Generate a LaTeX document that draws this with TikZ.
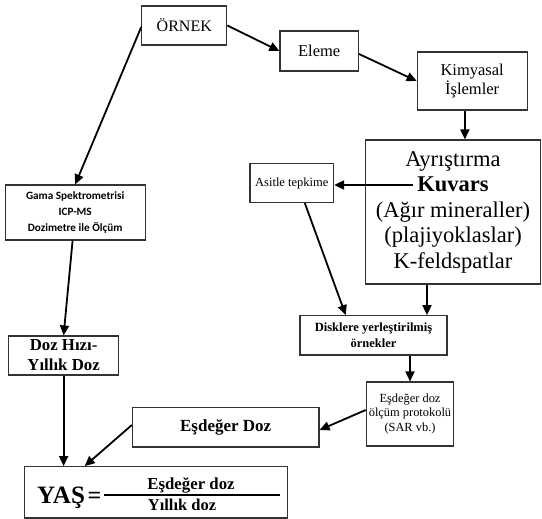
\documentclass[tikz,border=0pt]{standalone}
\usepackage{fontspec}
\setmainfont{Liberation Serif}
\newfontfamily\calfont{Carlito}
\usetikzlibrary{arrows.meta,calc}
\begin{document}
\begin{tikzpicture}[x=1pt,y=-1pt,
  box/.style={draw=black!80, line width=1.1pt, inner sep=0pt, align=center, rectangle},
  arr/.style={line width=1.8pt, -{Triangle[length=10pt,width=9pt]}},
]
\useasboundingbox (0,0) rectangle (542,519);
% boxes
\node[box, minimum width=85pt, minimum height=39pt, font=\fontsize{16}{18}\selectfont] (ornek) at (184.3,25.5) {ÖRNEK};
\node[box, minimum width=78.5pt, minimum height=40pt, font=\fontsize{16.5}{18}\selectfont] (eleme) at (319.2,51) {Eleme};
\node[box, minimum width=110pt, minimum height=58pt, font=\fontsize{16.5}{19.5}\selectfont] (kimya) at (472.2,81) {Kimyasal\\İşlemler};
\node[box, minimum width=175pt, minimum height=144pt, font=\fontsize{22.5}{25.5}\selectfont] (ayr) at (453,212) {Ayrıştırma\\\textbf{Kuvars}\\(Ağır mineraller)\\(plajiyoklaslar)\\K-feldspatlar};
\node[box, minimum width=83.6pt, minimum height=39pt, font=\fontsize{12.5}{14}\selectfont] (asit) at (291.8,183) {Asitle tepkime};
\node[box, minimum width=140pt, minimum height=55pt, font=\calfont\bfseries\fontsize{11.2}{16}\selectfont] (gama) at (75.2,212.5) {Gama Spektrometrisi\\ICP-MS\\Dozimetre ile Ölçüm};
\node[box, minimum width=110pt, minimum height=39pt, font=\bfseries\fontsize{16.8}{20}\selectfont] (dozh) at (63.6,355.5) {Doz Hızı-\\Yıllık Doz};
\node[box, minimum width=147pt, minimum height=39.3pt, font=\bfseries\fontsize{12.5}{15.5}\selectfont] (disk) at (373.5,335.3) {Disklere yerleştirilmiş\\örnekler};
\node[box, minimum width=87.5pt, minimum height=64pt, font=\fontsize{12.4}{14.5}\selectfont] (prot) at (410,414) {Eşdeğer doz\\ölçüm protokolü\\(SAR vb.)};
\node[box, minimum width=186.6pt, minimum height=39.3pt, font=\bfseries\fontsize{17}{20}\selectfont] (esd) at (225.7,427.3) {Eşdeğer Doz};
\node[box, minimum width=263.4pt, minimum height=51.3pt] (yas) at (156,492.3) {};
% equation
\node[anchor=base west, inner sep=0pt, font=\bfseries\fontsize{25}{30}\selectfont] (yaslbl) at (37,503.3) {YAŞ};
\node[anchor=base west, inner sep=0pt, font=\bfseries\fontsize{24}{30}\selectfont] (eq) at (87.5,503.3) {=};
\coordinate (fl) at (104,495);
\coordinate (fr) at (280,495);
\draw[line width=1.4pt] (fl) -- (fr);
\node[anchor=base, inner sep=0pt, font=\bfseries\fontsize{16.8}{20}\selectfont] (num) at (191,489.5) {Eşdeğer doz};
\node[anchor=base, inner sep=0pt, font=\bfseries\fontsize{16.5}{20}\selectfont] (den) at (182,510.5) {Yıllık doz};
% connectors
\draw[arr] (ornek.east) -- (eleme.west);
\draw[arr] ($(eleme.east)+(0,3)$) -- (kimya.west);
\coordinate (k1) at ($(kimya.south)+(-7.3,0)$);
\draw[arr] (k1) -- (k1 |- ayr.north);
\draw[arr] ($(ornek.west)+(0,1.5)$) -- (gama.north);
\coordinate (kuv) at (413,185);
\draw[arr] (kuv) -- (kuv -| asit.east);
\draw[arr] ($(asit.south)+(13,0)$) -- ($(disk.north)+(-27.8,0)$);
\coordinate (a1) at ($(ayr.south)+(-26,0)$);
\draw[arr] (a1) -- (a1 |- disk.north);
\draw[arr] ($(gama.south)+(-2.6,0)$) -- (dozh.north);
\draw[arr] (disk.south -| prot.north) -- (prot.north);
\draw[arr] ($(prot.west)+(0,-4)$) -- ($(esd.east)+(0,2.7)$);
\draw[arr] (dozh.south) -- (dozh.south |- yas.north);
\draw[arr] ($(esd.west)+(0,-2.3)$) -- ($(yas.north)+(-71.3,0)$);
\end{tikzpicture}
\end{document}
